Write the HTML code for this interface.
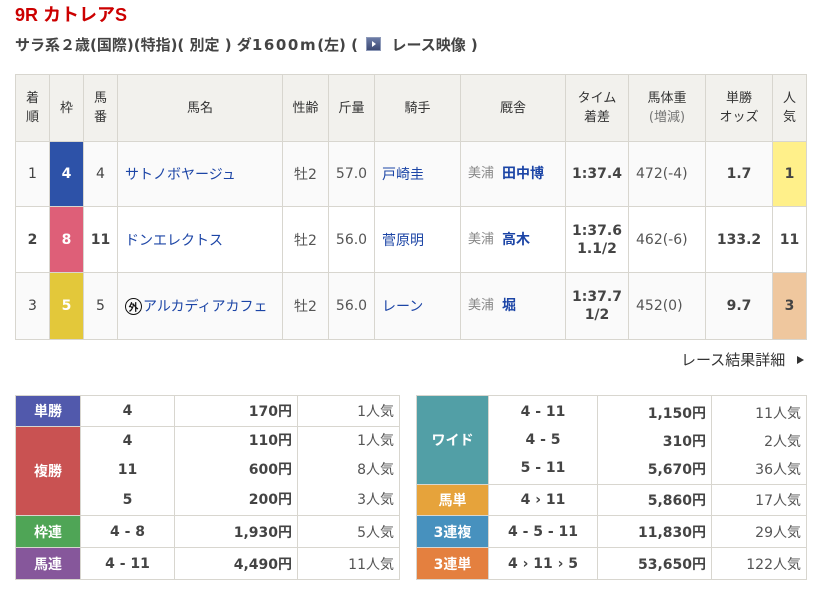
<!DOCTYPE html>
<html><head><meta charset="utf-8">
<style>
*{margin:0;padding:0;box-sizing:border-box}
body{width:819px;height:589px;background:#fff;position:relative;overflow:hidden;font-family:"DejaVu Sans","Noto Sans CJK JP",sans-serif;color:#333}
.title{position:absolute;left:15px;top:4px;font-weight:bold;font-size:18px;font-family:"Liberation Sans","Noto Sans CJK JP",sans-serif;color:#cc0000;white-space:nowrap;line-height:22px}
.sub{position:absolute;left:15px;top:35px;font-weight:bold;font-size:15px;color:#444;white-space:nowrap;line-height:20px}
.sub .d{letter-spacing:1.6px}
.icon{display:inline-block;width:15px;height:14px;vertical-align:-1px;background:linear-gradient(#6b7ba6,#3d4a73);border:1px solid #8d99b8;position:relative;margin:0 5px 0 3px}
.icon:after{content:"";position:absolute;left:5px;top:3px;border-left:4px solid #fff;border-top:3px solid transparent;border-bottom:3px solid transparent}
.grid{position:absolute;display:grid;gap:1px;padding:1px;background:#d8d6cf}
.grid>div{background:#fff;display:flex;align-items:center;justify-content:center;text-align:center;font-size:14px;color:#444;white-space:nowrap}
.hd{background:#f2f1ed!important;font-size:13px!important;line-height:19px;color:#333!important}
.r1{background:#fafafa!important}
.r3{background:#fafafa!important}
.fr{color:#fff!important;font-weight:bold}
.l{justify-content:flex-start!important;padding-left:7px}
.b{font-weight:bold}
.bl{color:#1c45a6!important}
.g{color:#555!important}
.tr{font-size:13px;color:#888;margin-right:8px;font-weight:normal;line-height:16px}
.tn{color:#1c45a6;font-weight:bold;line-height:16px}
.two{line-height:18px}
.gai{display:inline-flex;align-items:center;justify-content:center;width:17px;height:17px;border:1.5px solid #111;border-radius:50%;font-size:10px;color:#111;font-weight:bold;margin-right:1px}
.pay>div{font-weight:bold;color:#444}
.lab{color:#fff!important;font-weight:bold}
.amt{justify-content:flex-end!important;padding-right:5px}
.pop{justify-content:flex-end!important;padding-right:5px;font-weight:normal!important;color:#555!important}
.ml{flex-direction:column}
.ml span{display:block}
.more{position:absolute;left:681px;top:349px;font-size:15px;color:#333;white-space:nowrap;line-height:22px}
.tri{position:absolute;left:797px;top:356px;border-left:7px solid #333;border-top:4px solid transparent;border-bottom:4px solid transparent}
</style></head><body>
<div class="title">9R カトレアS</div>
<div class="sub">サラ系２歳(国際)(特指)( 別定 ) ダ<span class="d">1600m</span>(左) ( <span class="icon"></span> レース映像 )</div>

<div class="grid" style="left:15px;top:74px;grid-template-columns:33px 33px 33px 164px 45px 45px 85px 104px 62px 76px 66px 33px;grid-template-rows:66px 64px 65px 66px;">
<div class="hd"><span>着<br>順</span></div><div class="hd">枠</div><div class="hd"><span>馬<br>番</span></div><div class="hd">馬名</div><div class="hd">性齢</div><div class="hd">斤量</div><div class="hd">騎手</div><div class="hd">厩舎</div><div class="hd"><span>タイム<br>着差</span></div><div class="hd"><span>馬体重<br><span style="color:#777">(増減)</span></span></div><div class="hd"><span>単勝<br>オッズ</span></div><div class="hd"><span>人<br>気</span></div>

<div class="r1">1</div><div class="fr" style="background:#2d52a8">4</div><div class="r1">4</div><div class="r1 l bl">サトノボヤージュ</div><div class="r1 g">牡2</div><div class="r1 g">57.0</div><div class="r1 l bl">戸崎圭</div><div class="r1 l"><span class="tr">美浦</span><span class="tn">田中博</span></div><div class="r1 b">1:37.4</div><div class="r1 l g">472(-4)</div><div class="r1 b">1.7</div><div class="b" style="background:#fff08a">1</div>

<div class="b">2</div><div class="fr" style="background:#de5f78">8</div><div class="b">11</div><div class="l bl">ドンエレクトス</div><div class="g">牡2</div><div class="g">56.0</div><div class="l bl">菅原明</div><div class="l"><span class="tr">美浦</span><span class="tn">高木</span></div><div class="b two"><span>1:37.6<br>1.1/2</span></div><div class="l g">462(-6)</div><div class="b">133.2</div><div class="b">11</div>

<div class="r3">3</div><div class="fr" style="background:#e3c83a">5</div><div class="r3">5</div><div class="r3 l bl" style="padding-left:7px"><span class="gai">外</span>アルカディアカフェ</div><div class="r3 g">牡2</div><div class="r3 g">56.0</div><div class="r3 l bl">レーン</div><div class="r3 l"><span class="tr">美浦</span><span class="tn">堀</span></div><div class="r3 b two"><span>1:37.7<br>1/2</span></div><div class="r3 l g">452(0)</div><div class="r3 b">9.7</div><div class="b" style="background:#efc79e">3</div>
</div>

<div class="more">レース結果詳細</div><div class="tri"></div>

<div class="grid pay" style="left:15px;top:395px;grid-template-columns:64px 93px 122px 101px;grid-template-rows:30px 88px 31px 31px;">
<div class="lab" style="background:#5159ac">単勝</div><div>4</div><div class="amt">170円</div><div class="pop">1人気</div>
<div class="lab" style="background:#c95252">複勝</div>
<div class="ml" style="line-height:29.5px"><span>4</span><span>11</span><span>5</span></div>
<div class="ml amt" style="line-height:29.5px;align-items:flex-end"><span>110円</span><span>600円</span><span>200円</span></div>
<div class="ml pop" style="line-height:29.5px;align-items:flex-end"><span>1人気</span><span>8人気</span><span>3人気</span></div>
<div class="lab" style="background:#4fa556">枠連</div><div>4 - 8</div><div class="amt">1,930円</div><div class="pop">5人気</div>
<div class="lab" style="background:#86579b">馬連</div><div>4 - 11</div><div class="amt">4,490円</div><div class="pop">11人気</div>
</div>

<div class="grid pay" style="left:416px;top:395px;grid-template-columns:71px 108px 113px 94px;grid-template-rows:88px 30px 31px 31px;">
<div class="lab" style="background:#529fa6">ワイド</div>
<div class="ml" style="line-height:28px"><span>4 - 11</span><span>4 - 5</span><span>5 - 11</span></div>
<div class="ml amt" style="line-height:28px;align-items:flex-end"><span>1,150円</span><span>310円</span><span>5,670円</span></div>
<div class="ml pop" style="line-height:28px;align-items:flex-end"><span>11人気</span><span>2人気</span><span>36人気</span></div>
<div class="lab" style="background:#e6a33b">馬単</div><div>4 › 11</div><div class="amt">5,860円</div><div class="pop">17人気</div>
<div class="lab" style="background:#4791be">3連複</div><div>4 - 5 - 11</div><div class="amt">11,830円</div><div class="pop">29人気</div>
<div class="lab" style="background:#e4803f">3連単</div><div>4 › 11 › 5</div><div class="amt">53,650円</div><div class="pop">122人気</div>
</div>
</body></html>
